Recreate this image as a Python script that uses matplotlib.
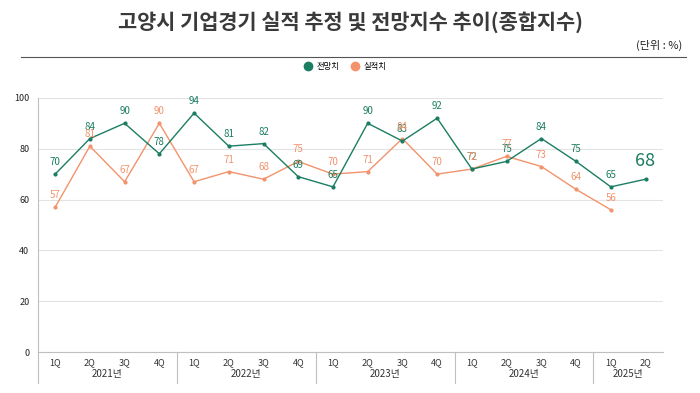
import matplotlib
matplotlib.use("Agg")
import matplotlib.pyplot as plt
from matplotlib.lines import Line2D
import matplotlib.transforms as mtransforms

plt.rcParams['font.family'] = ['Noto Sans CJK KR', 'DejaVu Sans']

quarters = ['1Q', '2Q', '3Q', '4Q'] * 4 + ['1Q', '2Q']
years = ['2021년', '2022년', '2023년', '2024년', '2025년']
year_sizes = [4, 4, 4, 4, 2]
forecast = [70, 84, 90, 78, 94, 81, 82, 69, 65, 90, 83, 92, 72, 75, 84, 75, 65, 68]
actual = [57, 81, 67, 90, 67, 71, 68, 75, 70, 71, 84, 70, 72, 77, 73, 64, 56]

green = '#1b7d62'
orange = '#f2936c'

fig = plt.figure(figsize=(7, 3.93), dpi=100)
ax = fig.add_axes([0.054, 0.104, 0.893, 0.647])

x_f = list(range(len(forecast)))
x_a = list(range(len(actual)))
ax.plot(x_a, actual, color=orange, lw=1, marker='o', ms=2, zorder=3)
ax.plot(x_f, forecast, color=green, lw=1, marker='o', ms=2, zorder=4)

# forecast labels first, actual labels drawn on top (as in the original)
for i, v in enumerate(forecast):
    if i == len(forecast) - 1:
        ax.annotate(str(v), (i, v), xytext=(0, 7), textcoords='offset points',
                    ha='center', va='bottom', fontsize=13, color=green, zorder=5)
    else:
        ax.annotate(str(v), (i, v), xytext=(0, 5), textcoords='offset points',
                    ha='center', va='bottom', fontsize=7, color=green, zorder=5)
for i, v in enumerate(actual):
    ax.annotate(str(v), (i, v), xytext=(0, 5), textcoords='offset points',
                ha='center', va='bottom', fontsize=7, color=orange, zorder=6)

ax.set_xlim(-0.5, len(quarters) - 0.5)
ax.set_ylim(0, 100)
ax.set_yticks([0, 20, 40, 60, 80, 100])
ax.grid(axis='y', color='#e3e3e3', lw=0.8)
ax.set_axisbelow(True)
ax.set_xticks(range(len(quarters)))
ax.set_xticklabels(quarters, fontsize=6.5, color='#333333')
ax.tick_params(axis='x', length=0, pad=4)
ax.tick_params(axis='y', length=0, labelsize=6.5, labelcolor='#222222', pad=6)
for s in ['top', 'right']:
    ax.spines[s].set_visible(False)
ax.spines['left'].set_color('#bfbfbf')
ax.spines['bottom'].set_color('#bfbfbf')

# year labels and separators below the axis
trans = mtransforms.blended_transform_factory(ax.transData, ax.transAxes)
start = 0
for name, n in zip(years, year_sizes):
    ax.text(start + (n - 1) / 2, -0.085, name, transform=trans, ha='center',
            va='center', fontsize=7, color='#333333')
    ax.add_line(Line2D([start - 0.5, start - 0.5], [0, -0.12], transform=trans,
                       color='#bfbfbf', lw=0.8, clip_on=False))
    start += n

fig.text(0.5, 0.944, '고양시 기업경기 실적 추정 및 전망지수 추이(종합지수)',
         ha='center', va='center', fontsize=15, fontweight='bold', color='#3a3a3a')
fig.text(0.975, 0.885, '(단위 : %)', ha='right', va='center', fontsize=8, color='#222222')
fig.add_artist(Line2D([0.03, 0.98], [0.855, 0.855], color='#555555', lw=0.8))

handles = [Line2D([], [], marker='o', ls='', color=green, ms=6),
           Line2D([], [], marker='o', ls='', color=orange, ms=6)]
fig.legend(handles, ['전망치', '실적치'], loc='center', bbox_to_anchor=(0.49, 0.832),
           ncol=2, frameon=False, fontsize=6, handletextpad=0.1, columnspacing=0.8)

fig.savefig('out.png', dpi=100, facecolor='white')
